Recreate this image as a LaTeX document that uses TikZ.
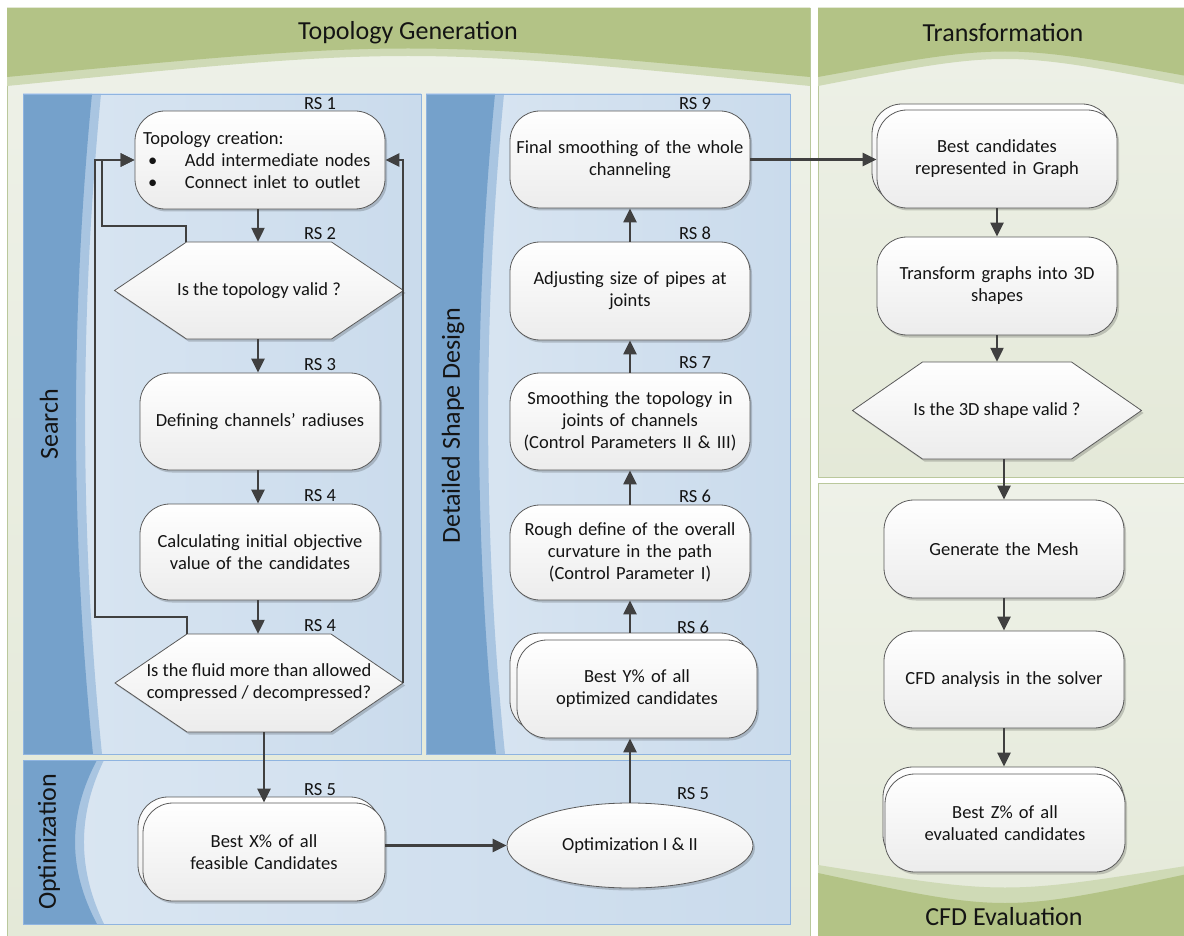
\documentclass[tikz,border=0pt]{standalone}
\usepackage{fontspec}
\setmainfont{Carlito}
\usetikzlibrary{arrows.meta,shapes.geometric,shadows,calc}

\definecolor{hdrgreen}{HTML}{B3C386}
\definecolor{hdrstrip}{HTML}{CFDAB6}
\definecolor{poolfill}{HTML}{ECF0E4}
\definecolor{poolfillT}{HTML}{EEF1E8}
\definecolor{poolfillB}{HTML}{E4E9D8}
\definecolor{poolline}{HTML}{BAC89C}
\definecolor{lanefillL}{HTML}{DAE6F2}
\definecolor{lanefillR}{HTML}{CADBEC}
\definecolor{laneline}{HTML}{8FB4E0}
\definecolor{bandblue}{HTML}{75A1CB}
\definecolor{bandstrip}{HTML}{A9C5E1}
\definecolor{boxline}{HTML}{5A5A5A}
\definecolor{boxgrad}{HTML}{ECECEC}
\definecolor{flowline}{HTML}{404040}
\definecolor{inktext}{HTML}{141414}

\newcommand\boxfont{\fontsize{18.5}{22}\selectfont}
\newcommand\titlefont{\fontsize{26}{30}\selectfont}

\tikzset{
  boxshadow/.style={drop shadow={shadow xshift=2pt,shadow yshift=-2.5pt,fill=black,opacity=0.18}},
  procbox/.style={draw=boxline, line width=0.8pt, rounded corners=30pt,
    top color=white, bottom color=boxgrad, boxshadow,
    minimum width=240pt, minimum height=97pt, text width=230pt,
    align=center, inner sep=0pt, font=\boxfont, text=inktext},
  optell/.style={ellipse, draw=boxline, line width=0.8pt,
    top color=white, bottom color=boxgrad, boxshadow,
    minimum width=246pt, minimum height=85pt, inner sep=0pt,
    align=center, font=\boxfont, text=inktext},
  hexshape/.style={draw=boxline, line width=0.8pt, top color=white,
    bottom color=boxgrad, boxshadow},
  hextext/.style={rectangle, inner sep=0pt, align=center, font=\boxfont, text=inktext},
  rslabel/.style={font=\boxfont, text=inktext, inner sep=0pt},
  titletext/.style={font=\titlefont, text=inktext, inner sep=0pt},
  poolbox/.style={draw=poolline, top color=poolfillT, bottom color=poolfillB},
  flow/.style={draw=flowline, line width=2.3pt, -{Triangle[length=14pt,width=13pt]}},
}

% hexagon decision shape: name, cx, cy, half width, half height, inset, text
\newcommand\hexdecision[7]{%
  \path[hexshape] (#2-#4,#3) -- (#2-#4+#6,#3-#5) -- (#2+#4-#6,#3-#5)
    -- (#2+#4,#3) -- (#2+#4-#6,#3+#5) -- (#2-#4+#6,#3+#5) -- cycle;
  \node[hextext, minimum width=2*#4 pt, minimum height=2*#5 pt] (#1) at (#2,#3) {#7};
}

\begin{document}
\begin{tikzpicture}[x=1pt,y=-1pt]
\useasboundingbox (0,0) rectangle (1184,936);
\fill[white] (0,0) rectangle (1184,936);

% ---------- pools ----------
\path[poolbox] (7,8) rectangle (810,945);
\fill[hdrstrip] (7,8) -- (810,8) -- (810,86) .. controls (408,46) .. (7,86) -- cycle;
\fill[hdrgreen] (7,8) -- (810,8) -- (810,77) .. controls (408,39) .. (7,77) -- cycle;
\node[titletext] (tgTitle) at (408,33) {Topology Generation};

\path[poolbox] (818,8) rectangle (1192,477);
\fill[hdrstrip] (818,8) -- (1192,8) -- (1192,86) .. controls (1005,50) .. (818,86) -- cycle;
\fill[hdrgreen] (818,8) -- (1192,8) -- (1192,77) .. controls (1005,43) .. (818,77) -- cycle;
\node[titletext] (trTitle) at (1003,33) {Transformation};

\path[poolbox] (818,483) rectangle (1192,945);
\fill[hdrstrip] (818,945) -- (818,865) .. controls (1005,895) .. (1192,865) -- (1192,945) -- cycle;
\fill[hdrgreen] (818,945) -- (818,873) .. controls (1005,913) .. (1192,873) -- (1192,945) -- cycle;
\node[titletext] (cfdTitle) at (1004,917) {CFD Evaluation};

% ---------- lanes ----------
\draw[laneline, left color=lanefillL, right color=lanefillR] (23,94) rectangle (421,754);
\fill[bandstrip] (23,94) -- (101,94) .. controls (79.7,314) and (79.7,534) .. (102,754) -- (23,754) -- cycle;
\fill[bandblue] (23,94) -- (92,94) .. controls (70.5,314) and (70.5,534) .. (93,754) -- (23,754) -- cycle;
\draw[laneline] (23,94) rectangle (421,754);
\node[titletext, rotate=90] (searchLbl) at (49,424) {Search};

\draw[laneline, left color=lanefillL, right color=lanefillR] (426,94) rectangle (790,754);
\fill[bandstrip] (426,94) -- (504,94) .. controls (482.7,314) and (482.7,534) .. (505,754) -- (426,754) -- cycle;
\fill[bandblue] (426,94) -- (495,94) .. controls (473.5,314) and (473.5,534) .. (496,754) -- (426,754) -- cycle;
\draw[laneline] (426,94) rectangle (790,754);
\node[titletext, rotate=90] (designLbl) at (453,426) {Detailed Shape Design};

\draw[laneline, left color=lanefillL, right color=lanefillR] (23,760) rectangle (790,924);
\fill[bandstrip] (23,760) -- (104,760) .. controls (77.3,815) and (77.3,869) .. (104,924) -- (23,924) -- cycle;
\fill[bandblue] (23,760) -- (97,760) .. controls (67.7,815) and (67.7,869) .. (97,924) -- (23,924) -- cycle;
\draw[laneline] (23,760) rectangle (790,924);
\node[titletext, rotate=90] (optLbl) at (49,842) {Optimization};

% ---------- search lane ----------
\node[procbox, text width=234pt, align=left, minimum width=250pt, minimum height=98pt] (rs1) at (260,160)
  {Topology creation:\\
   \hspace*{5pt}\makebox[37pt][l]{\textbullet}Add intermediate nodes\\
   \hspace*{5pt}\makebox[37pt][l]{\textbullet}Connect inlet to outlet};
\hexdecision{rs2}{259}{290.5}{144.5}{48.5}{72}{Is the topology valid ?}
\node[procbox] (rs3) at (260,421.5) {Defining channels’ radiuses};
\node[procbox, minimum height=96pt] (rs4) at (260,552) {Calculating initial objective\\value of the candidates};
\hexdecision{rs4b}{259}{683}{144}{49}{72}{Is the fluid more than allowed\\compressed / decompressed?}

\node[rslabel] (lbl1) at (320,104) {RS 1};
\node[rslabel] (lbl2) at (320,234) {RS 2};
\node[rslabel] (lbl3) at (320,365) {RS 3};
\node[rslabel] (lbl4) at (320,496) {RS 4};
\node[rslabel] (lbl4b) at (320,626) {RS 4};

% ---------- optimization lane ----------
\node[procbox, minimum width=242pt, minimum height=98pt] (bestXback) at (259,846) {};
\node[procbox, minimum width=242pt, minimum height=98pt] (bestX) at (264,852) {Best X\% of all\\feasible Candidates};
\node[rslabel] (lbl5) at (320,790) {RS 5};
\node[optell] (opt) at (630,845.5) {Optimization I \& II};
\node[rslabel] (lbl5b) at (693,794) {RS 5};

% ---------- detailed shape design lane ----------
\node[procbox] (rs9) at (630,159.5) {Final smoothing of the whole\\channeling};
\node[procbox, minimum height=98pt] (rs8) at (630,291) {Adjusting size of pipes at\\joints};
\node[procbox] (rs7) at (630,421.5) {Smoothing the topology in\\joints of channels\\(Control Parameters II \& III)};
\node[procbox, minimum height=95pt] (rs6) at (630,552.5) {Rough define of the overall\\curvature in the path\\(Control Parameter I)};
\node[procbox, minimum height=98pt] (bestYback) at (630,682) {};
\node[procbox, minimum height=98pt] (bestY) at (637,689) {Best Y\% of all\\optimized candidates};

\node[rslabel] (lbl9) at (695,104) {RS 9};
\node[rslabel] (lbl8) at (695,233) {RS 8};
\node[rslabel] (lbl7) at (695,363) {RS 7};
\node[rslabel] (lbl6) at (695,496) {RS 6};
\node[rslabel] (lbl6b) at (693,627) {RS 6};

% ---------- transformation ----------
\node[procbox, minimum height=98pt] (bestCback) at (992,153) {};
\node[procbox, minimum height=98pt] (bestC) at (997,159) {Best candidates\\represented in Graph};
\node[procbox, minimum height=98pt] (trans) at (997,286) {Transform graphs into 3D\\shapes};
\hexdecision{hex3d}{997}{410.5}{144.5}{48.5}{70}{Is the 3D shape valid ?}

% ---------- CFD evaluation ----------
\node[procbox, minimum height=98pt] (mesh) at (1004,549) {Generate the Mesh};
\node[procbox] (cfd) at (1004,679.5) {CFD analysis in the solver};
\node[procbox, minimum height=98pt] (bestZback) at (1003,816) {};
\node[procbox, minimum height=98pt] (bestZ) at (1005,823) {Best Z\% of all\\evaluated candidates};

% ---------- connectors ----------
\draw[flow] (rs1.south -| 258,0) -- (rs2.north -| 258,0);
\draw[flow] (rs2.south -| 258,0) -- (rs3.north -| 258,0);
\draw[flow] (rs3.south -| 258,0) -- (rs4.north -| 258,0);
\draw[flow] (rs4.south -| 258,0) -- (rs4b.north -| 258,0);

\coordinate (rs2tl) at (186,242);
\coordinate (rs4btl) at (187,634);
\draw[flow] (rs2tl) |- (102,226) |- (rs1.west);
\draw[flow] (rs4btl) |- (95,617) |- (rs1.west);
\draw[flow] (rs4b.east) |- (rs1.east);

\draw[flow] (rs4b.south -| bestX.north) -- (bestX.north);
\draw[flow] (bestX.east |- opt.west) -- (opt.west);
\draw[flow] (opt.north) -- (opt.north |- bestY.south);
\draw[flow] (bestYback.north) -- (bestYback.north |- rs6.south);
\draw[flow] (rs6.north) -- (rs7.south);
\draw[flow] (rs7.north) -- (rs8.south);
\draw[flow] (rs8.north) -- (rs9.south);
\draw[flow] (rs9.east) -- (rs9.east -| bestC.west);

\draw[flow] (bestC.south) -- (trans.north);
\draw[flow] (trans.south) -- (hex3d.north);
\draw[flow] (hex3d.south -| mesh.north) -- (mesh.north);
\draw[flow] (mesh.south) -- (cfd.north);
\draw[flow] (cfd.south) -- (cfd.south |- bestZback.north);
\end{tikzpicture}
\end{document}
